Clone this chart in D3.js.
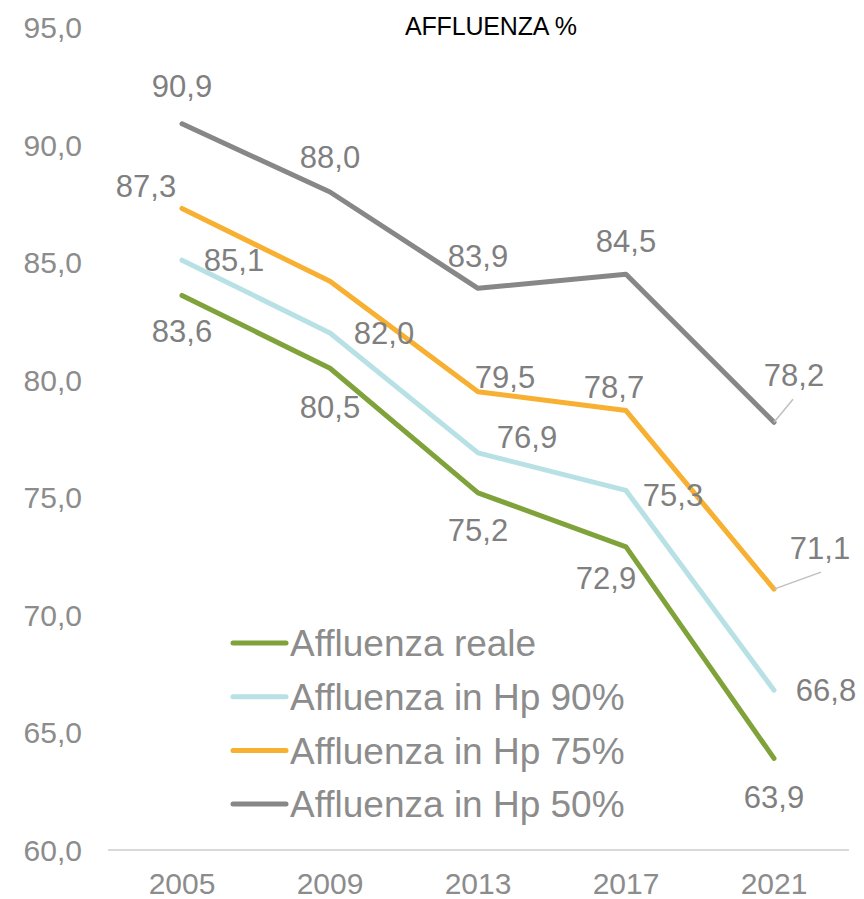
<!DOCTYPE html>
<html>
<head>
<meta charset="utf-8">
<script src="https://cdn.jsdelivr.net/npm/d3@7"></script>
<style>
  body { margin: 0; background: #fff; }
  #viz svg { display: block; }
</style>
</head>
<body>
<div id="viz"></div>
<script>
const WIDTH = 864, HEIGHT = 899;

const years = ["2005", "2009", "2013", "2017", "2021"];
const yTicks = [60, 65, 70, 75, 80, 85, 90, 95];

const reale = [83.6, 80.5, 75.2, 72.9, 63.9];
const hp90 = [85.1, 82.0, 76.9, 75.3, 66.8];
const hp75 = [87.3, 84.2, 79.5, 78.7, 71.1];
const hp50 = [90.9, 88.0, 83.9, 84.5, 78.2];

const seriesNames = ["Affluenza reale", "Affluenza in Hp 90%", "Affluenza in Hp 75%", "Affluenza in Hp 50%"];
const seriesValues = [reale, hp90, hp75, hp50];
const COLORS = ["#7fa33a", "#b8e1e5", "#f7b031", "#878787"];

// label offsets (dx, dy) from each point, null = no label, third item = leader line end
const labelPos = [
  [[0, 36], [0, 39], [0, 37], [-20, 31], [0, 39]],
  [[52, 0], [54, 0], [49, -16], [47, 5], [52, 0]],
  [[-36, -22], null, [27, -15], [-12, -23], [46, -41, [47, -17]]],
  [[0, -38], [0, -35], [0, -32], [0, -33], [20, -47, [19, -23]]]
];

const fmt = v => d3.format(".1f")(v).replace(".", ",");

const svg = d3.select("#viz").append("svg")
  .attr("width", WIDTH)
  .attr("height", HEIGHT)
  .style("font-family", "'Liberation Sans', Arial, sans-serif");

const x = d3.scaleBand().domain(years).range([108, 848]);
const y = d3.scaleLinear().domain([60, 95]).range([850, 27.5]);
const cx = d => x(d) + x.bandwidth() / 2;

// y labels
svg.append("g").selectAll("text")
  .data(yTicks)
  .join("text")
  .attr("x", 82)
  .attr("y", d => y(d))
  .attr("dy", "0.35em")
  .attr("text-anchor", "end")
  .attr("font-size", 30)
  .attr("fill", "#8c8c8c")
  .text(d => fmt(d));

// baseline
svg.append("line")
  .attr("x1", 108).attr("x2", 849)
  .attr("y1", y(60)).attr("y2", y(60))
  .attr("stroke", "#d9d9d9")
  .attr("stroke-width", 2);

// x labels
svg.append("g").selectAll("text")
  .data(years)
  .join("text")
  .attr("x", d => cx(d))
  .attr("y", 894)
  .attr("text-anchor", "middle")
  .attr("font-size", 30)
  .attr("fill", "#8c8c8c")
  .text(d => d);

const line = d3.line()
  .x((d, i) => cx(years[i]))
  .y(d => y(d));

seriesValues.forEach((vals, s) => {
  svg.append("path")
    .datum(vals)
    .attr("d", line)
    .attr("fill", "none")
    .attr("stroke", COLORS[s])
    .attr("stroke-width", 5)
    .attr("stroke-linejoin", "round")
    .attr("stroke-linecap", "round");
});

// data labels
seriesValues.forEach((vals, s) => {
  vals.forEach((v, i) => {
    const p = labelPos[s][i];
    if (!p) return;
    const px = cx(years[i]), py = y(v);
    if (p[2]) {
      svg.append("line")
        .attr("x1", px).attr("y1", py)
        .attr("x2", px + p[2][0]).attr("y2", py + p[2][1])
        .attr("stroke", "#bfbfbf")
        .attr("stroke-width", 1.5);
    }
    svg.append("text")
      .attr("x", px + p[0])
      .attr("y", py + p[1])
      .attr("dy", "0.35em")
      .attr("text-anchor", "middle")
      .attr("font-size", 31)
      .attr("fill", "#7f7f7f")
      .text(fmt(v));
  });
});

// legend
const legend = svg.append("g");
seriesNames.forEach((name, i) => {
  const ly = 643 + i * 53.7;
  legend.append("line")
    .attr("x1", 233).attr("x2", 286)
    .attr("y1", ly).attr("y2", ly)
    .attr("stroke", COLORS[i])
    .attr("stroke-width", 5)
    .attr("stroke-linecap", "round");
  legend.append("text")
    .attr("x", 290)
    .attr("y", ly)
    .attr("dy", "0.36em")
    .attr("font-size", 37)
    .attr("fill", "#8c8c8c")
    .text(name);
});

// title
svg.append("text")
  .attr("x", 491)
  .attr("y", 35)
  .attr("text-anchor", "middle")
  .attr("font-size", 25)
  .attr("fill", "#000")
  .style("font-family", "'Liberation Sans Narrow', 'Liberation Sans', Arial, sans-serif")
  .attr("textLength", 172)
  .text("AFFLUENZA %");
</script>
</body>
</html>
